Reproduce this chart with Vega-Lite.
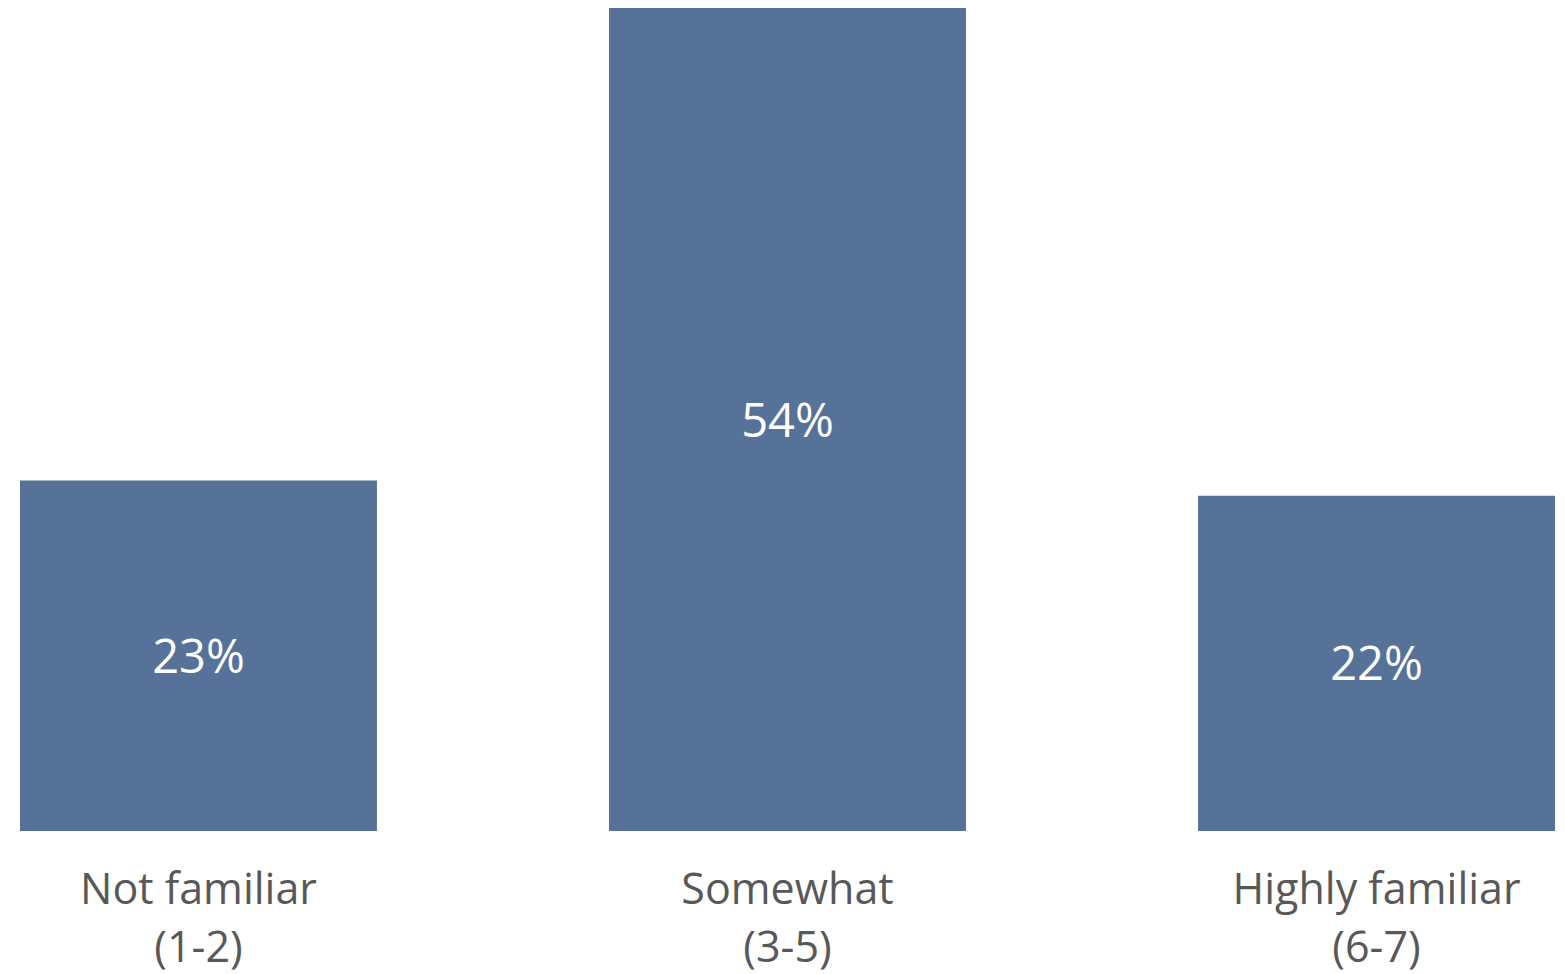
{
  "$schema": "https://vega.github.io/schema/vega-lite/v6.json",
  "autosize": {"type": "none"},
  "width": 1535,
  "height": 823,
  "padding": {"left": 20, "top": 8, "right": 10, "bottom": 143},
  "background": "white",
  "config": {"view": {"stroke": null}, "font": "Open Sans"},
  "data": {
    "values": [
      {"category": "Not familiar|(1-2)", "value": 23, "label": "23%"},
      {"category": "Somewhat|(3-5)", "value": 54, "label": "54%"},
      {"category": "Highly familiar|(6-7)", "value": 22, "label": "22%"}
    ]
  },
  "encoding": {
    "x": {
      "field": "category",
      "type": "nominal",
      "sort": null,
      "scale": {"paddingInner": 0.394, "paddingOuter": 0},
      "axis": {
        "title": null,
        "domain": false,
        "ticks": false,
        "labelAngle": 0,
        "labelExpr": "split(datum.label, '|')",
        "labelFontSize": 43,
        "labelLineHeight": 58,
        "labelLimit": 0,
        "labelOverlap": false,
        "labelColor": "#585858",
        "labelPadding": 38,
        "labelFont": "Open Sans"
      }
    }
  },
  "layer": [
    {
      "mark": {"type": "bar", "color": "#567299"},
      "encoding": {
        "y": {
          "field": "value",
          "type": "quantitative",
          "scale": {"domain": [0, 54], "nice": false, "zero": true},
          "axis": null
        }
      }
    },
    {
      "transform": [{"calculate": "datum.value / 2", "as": "mid"}],
      "mark": {
        "type": "text",
        "color": "white",
        "fontSize": 47,
        "fontWeight": "normal",
        "baseline": "middle",
        "align": "center",
        "dy": 3,
        "font": "Open Sans"
      },
      "encoding": {
        "y": {"field": "mid", "type": "quantitative", "scale": {"domain": [0, 54], "nice": false}, "axis": null},
        "text": {"field": "label"}
      }
    }
  ]
}
